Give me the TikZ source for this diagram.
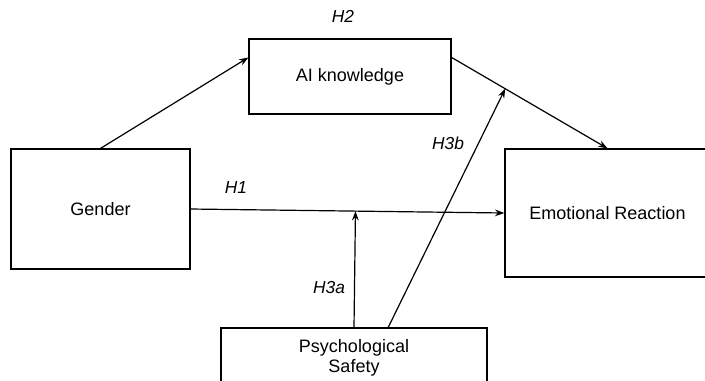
\documentclass[tikz,border=0pt]{standalone}
\usepackage{fontspec}
\setmainfont{Liberation Sans}
\usetikzlibrary{arrows.meta,calc}
\begin{document}
\begin{tikzpicture}[x=0.75pt,y=-0.75pt,
  every node/.style={font=\fontsize{13.5pt}{15.75pt}\selectfont},
  varbox/.style={draw,line width=0.9pt,inner sep=0pt,align=center},
  link/.style={line width=0.9pt,-{Stealth[length=7pt,width=5pt]}},
  hyp/.style={font=\fontsize{13pt}{15pt}\selectfont\itshape}]
\clip (0,0) rectangle (705,380);
\fill[white] (0,0) rectangle (705,380);
\node[varbox,minimum width=179*0.75pt,minimum height=120*0.75pt] (gender) at (100.5,209) {Gender};
\node[varbox,minimum width=202*0.75pt,minimum height=75*0.75pt] (ai) at (350,76.5) {AI knowledge};
\node[varbox,minimum width=205*0.75pt,minimum height=128*0.75pt] (emo) at (607.5,213) {Emotional Reaction};
\node[varbox,minimum width=266*0.75pt,minimum height=56*0.75pt,text depth=0pt] (psy) at (354,356) {Psychological\\[-1pt]Safety};
\coordinate (aiin) at ($(ai.north west)!0.25!(ai.south west)$);
\coordinate (aiout) at ($(ai.north east)!0.25!(ai.south east)$);
\coordinate (psyb) at ($(psy.north west)!0.628!(psy.north east)$);
\draw[link] (gender.north) -- (aiin);
\draw[link] (aiout) -- (emo.north);
\draw[link] (gender.east) -- (emo.west);
\coordinate (mod1) at ($(gender.east)!(psy.north)!(emo.west)$);
\coordinate (mod2) at ($(aiout)!0.344!(emo.north)$);
\draw[link] (psy.north) -- (mod1);
\draw[link] (psyb) -- (mod2);
\node[hyp] (h2) at (343,16) {H2};
\node[hyp] (h1) at (236,188) {H1};
\node[hyp] (h3a) at (329,288) {H3a};
\node[hyp] (h3b) at (448,143) {H3b};
\end{tikzpicture}
\end{document}
